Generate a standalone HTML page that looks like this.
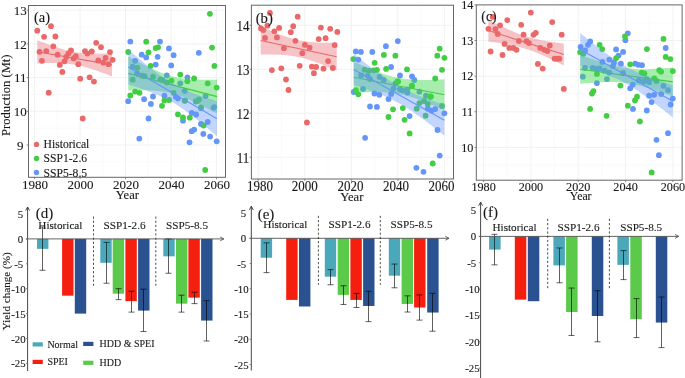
<!DOCTYPE html>
<html><head><meta charset="utf-8"><title>Figure</title>
<style>html,body{margin:0;padding:0;background:#fff;width:685px;height:378px;overflow:hidden}svg{display:block;will-change:transform}
text{font-family:"Liberation Serif",serif;stroke:#1a1a1a;stroke-width:0.12px}</style></head>
<body>
<svg width="685" height="378" viewBox="0 0 685 378" font-family="Liberation Serif, serif"><g id="panela">
<rect x="28.5" y="5.5" width="197" height="171.8" fill="#fff"/>
<line x1="34.6" y1="5.5" x2="34.6" y2="177.3" stroke="#f1f1f1" stroke-width="0.9"/><line x1="57.34" y1="5.5" x2="57.34" y2="177.3" stroke="#f6f6f6" stroke-width="0.6"/><line x1="80.08" y1="5.5" x2="80.08" y2="177.3" stroke="#f1f1f1" stroke-width="0.9"/><line x1="102.82" y1="5.5" x2="102.82" y2="177.3" stroke="#f6f6f6" stroke-width="0.6"/><line x1="125.56" y1="5.5" x2="125.56" y2="177.3" stroke="#f1f1f1" stroke-width="0.9"/><line x1="148.3" y1="5.5" x2="148.3" y2="177.3" stroke="#f6f6f6" stroke-width="0.6"/><line x1="171.04" y1="5.5" x2="171.04" y2="177.3" stroke="#f1f1f1" stroke-width="0.9"/><line x1="193.78" y1="5.5" x2="193.78" y2="177.3" stroke="#f6f6f6" stroke-width="0.6"/><line x1="216.52" y1="5.5" x2="216.52" y2="177.3" stroke="#f1f1f1" stroke-width="0.9"/><line x1="28.5" y1="10.2" x2="225.5" y2="10.2" stroke="#f1f1f1" stroke-width="0.9"/><line x1="28.5" y1="27.05" x2="225.5" y2="27.05" stroke="#f6f6f6" stroke-width="0.6"/><line x1="28.5" y1="43.9" x2="225.5" y2="43.9" stroke="#f1f1f1" stroke-width="0.9"/><line x1="28.5" y1="60.75" x2="225.5" y2="60.75" stroke="#f6f6f6" stroke-width="0.6"/><line x1="28.5" y1="77.6" x2="225.5" y2="77.6" stroke="#f1f1f1" stroke-width="0.9"/><line x1="28.5" y1="94.45" x2="225.5" y2="94.45" stroke="#f6f6f6" stroke-width="0.6"/><line x1="28.5" y1="111.3" x2="225.5" y2="111.3" stroke="#f1f1f1" stroke-width="0.9"/><line x1="28.5" y1="128.15" x2="225.5" y2="128.15" stroke="#f6f6f6" stroke-width="0.6"/><line x1="28.5" y1="145" x2="225.5" y2="145" stroke="#f1f1f1" stroke-width="0.9"/><line x1="28.5" y1="161.85" x2="225.5" y2="161.85" stroke="#f6f6f6" stroke-width="0.6"/>
<circle cx="37.3" cy="30.7" r="2.9" fill="#EB6868"/>
<circle cx="51" cy="26.2" r="2.9" fill="#EB6868"/>
<circle cx="44.1" cy="36.8" r="2.9" fill="#EB6868"/>
<circle cx="55.4" cy="36.5" r="2.9" fill="#EB6868"/>
<circle cx="53.3" cy="46.3" r="2.9" fill="#EB6868"/>
<circle cx="39.5" cy="51.8" r="2.9" fill="#EB6868"/>
<circle cx="46.3" cy="51.1" r="2.9" fill="#EB6868"/>
<circle cx="41.9" cy="60.8" r="2.9" fill="#EB6868"/>
<circle cx="57.6" cy="54.7" r="2.9" fill="#EB6868"/>
<circle cx="59.8" cy="64.9" r="2.9" fill="#EB6868"/>
<circle cx="64.5" cy="61.3" r="2.9" fill="#EB6868"/>
<circle cx="62.3" cy="71.9" r="2.9" fill="#EB6868"/>
<circle cx="66.3" cy="56.9" r="2.9" fill="#EB6868"/>
<circle cx="68.5" cy="53.3" r="2.9" fill="#EB6868"/>
<circle cx="71" cy="50.4" r="2.9" fill="#EB6868"/>
<circle cx="73.6" cy="58.4" r="2.9" fill="#EB6868"/>
<circle cx="75.8" cy="56.2" r="2.9" fill="#EB6868"/>
<circle cx="78.3" cy="64.2" r="2.9" fill="#EB6868"/>
<circle cx="85" cy="51.1" r="2.9" fill="#EB6868"/>
<circle cx="87.4" cy="53.6" r="2.9" fill="#EB6868"/>
<circle cx="91.8" cy="51.5" r="2.9" fill="#EB6868"/>
<circle cx="96.2" cy="42.8" r="2.9" fill="#EB6868"/>
<circle cx="101" cy="47.2" r="2.9" fill="#EB6868"/>
<circle cx="80.2" cy="78.7" r="2.9" fill="#EB6868"/>
<circle cx="89.6" cy="77.3" r="2.9" fill="#EB6868"/>
<circle cx="94" cy="81.6" r="2.9" fill="#EB6868"/>
<circle cx="98.3" cy="60.5" r="2.9" fill="#EB6868"/>
<circle cx="105.6" cy="57.9" r="2.9" fill="#EB6868"/>
<circle cx="103.4" cy="62.7" r="2.9" fill="#EB6868"/>
<circle cx="108.5" cy="64.2" r="2.9" fill="#EB6868"/>
<circle cx="110" cy="52.1" r="2.9" fill="#EB6868"/>
<circle cx="112.6" cy="59.8" r="2.9" fill="#EB6868"/>
<circle cx="48.7" cy="92.7" r="2.9" fill="#EB6868"/>
<circle cx="82.7" cy="118.5" r="2.9" fill="#EB6868"/>
<circle cx="130.3" cy="41.6" r="2.9" fill="#6496FA"/>
<circle cx="160" cy="41.6" r="2.9" fill="#6496FA"/>
<circle cx="168.9" cy="48.4" r="2.9" fill="#6496FA"/>
<circle cx="141.7" cy="54.7" r="2.9" fill="#6496FA"/>
<circle cx="146.2" cy="57.4" r="2.9" fill="#6496FA"/>
<circle cx="157.6" cy="56.8" r="2.9" fill="#6496FA"/>
<circle cx="173.6" cy="55.2" r="2.9" fill="#6496FA"/>
<circle cx="198.8" cy="52.8" r="2.9" fill="#6496FA"/>
<circle cx="135.1" cy="60.8" r="2.9" fill="#6496FA"/>
<circle cx="132.7" cy="66.7" r="2.9" fill="#6496FA"/>
<circle cx="155.7" cy="64.6" r="2.9" fill="#6496FA"/>
<circle cx="171.2" cy="65.4" r="2.9" fill="#6496FA"/>
<circle cx="137.1" cy="73.5" r="2.9" fill="#6496FA"/>
<circle cx="166.8" cy="75.4" r="2.9" fill="#6496FA"/>
<circle cx="162.5" cy="80.1" r="2.9" fill="#6496FA"/>
<circle cx="187.4" cy="77.3" r="2.9" fill="#6496FA"/>
<circle cx="180.3" cy="83.3" r="2.9" fill="#6496FA"/>
<circle cx="184.7" cy="90.8" r="2.9" fill="#6496FA"/>
<circle cx="128.2" cy="101.2" r="2.9" fill="#6496FA"/>
<circle cx="144.1" cy="99.2" r="2.9" fill="#6496FA"/>
<circle cx="153" cy="96.5" r="2.9" fill="#6496FA"/>
<circle cx="150.9" cy="103.9" r="2.9" fill="#6496FA"/>
<circle cx="164.4" cy="95.7" r="2.9" fill="#6496FA"/>
<circle cx="175.8" cy="96.8" r="2.9" fill="#6496FA"/>
<circle cx="177.9" cy="98.4" r="2.9" fill="#6496FA"/>
<circle cx="205.6" cy="96" r="2.9" fill="#6496FA"/>
<circle cx="214.4" cy="107.1" r="2.9" fill="#6496FA"/>
<circle cx="148.5" cy="118.5" r="2.9" fill="#6496FA"/>
<circle cx="139.3" cy="138.6" r="2.9" fill="#6496FA"/>
<circle cx="183" cy="120.7" r="2.9" fill="#6496FA"/>
<circle cx="191.7" cy="112.8" r="2.9" fill="#6496FA"/>
<circle cx="196.1" cy="114.5" r="2.9" fill="#6496FA"/>
<circle cx="200.9" cy="124" r="2.9" fill="#6496FA"/>
<circle cx="207.7" cy="122" r="2.9" fill="#6496FA"/>
<circle cx="191.7" cy="131.2" r="2.9" fill="#6496FA"/>
<circle cx="194.2" cy="129.6" r="2.9" fill="#6496FA"/>
<circle cx="203.3" cy="133.9" r="2.9" fill="#6496FA"/>
<circle cx="210.1" cy="136.6" r="2.9" fill="#6496FA"/>
<circle cx="216.7" cy="141.3" r="2.9" fill="#6496FA"/>
<circle cx="189.5" cy="142.3" r="2.9" fill="#6496FA"/>
<circle cx="213.6" cy="107.7" r="2.9" fill="#6496FA"/>
<circle cx="196.9" cy="101.3" r="2.9" fill="#6496FA"/>
<circle cx="185" cy="100.6" r="2.9" fill="#6496FA"/>
<circle cx="200.9" cy="108" r="2.9" fill="#6496FA"/>
<circle cx="209.9" cy="13.8" r="2.9" fill="#42CD42"/>
<circle cx="146.2" cy="41.7" r="2.9" fill="#42CD42"/>
<circle cx="155.7" cy="48.1" r="2.9" fill="#42CD42"/>
<circle cx="158.1" cy="47.3" r="2.9" fill="#42CD42"/>
<circle cx="212" cy="47.6" r="2.9" fill="#42CD42"/>
<circle cx="128.2" cy="52" r="2.9" fill="#42CD42"/>
<circle cx="148.5" cy="52.3" r="2.9" fill="#42CD42"/>
<circle cx="137.4" cy="67.8" r="2.9" fill="#42CD42"/>
<circle cx="150.6" cy="65.9" r="2.9" fill="#42CD42"/>
<circle cx="214.4" cy="65.9" r="2.9" fill="#42CD42"/>
<circle cx="142.2" cy="75.7" r="2.9" fill="#42CD42"/>
<circle cx="144.6" cy="76.2" r="2.9" fill="#42CD42"/>
<circle cx="132.7" cy="79.7" r="2.9" fill="#42CD42"/>
<circle cx="153" cy="76.6" r="2.9" fill="#42CD42"/>
<circle cx="160.4" cy="79.3" r="2.9" fill="#42CD42"/>
<circle cx="166.8" cy="82.5" r="2.9" fill="#42CD42"/>
<circle cx="171.5" cy="80.6" r="2.9" fill="#42CD42"/>
<circle cx="180.3" cy="74.6" r="2.9" fill="#42CD42"/>
<circle cx="187.4" cy="81.2" r="2.9" fill="#42CD42"/>
<circle cx="194.1" cy="78.5" r="2.9" fill="#42CD42"/>
<circle cx="207.7" cy="83.3" r="2.9" fill="#42CD42"/>
<circle cx="216.7" cy="87.6" r="2.9" fill="#42CD42"/>
<circle cx="173.6" cy="92.8" r="2.9" fill="#42CD42"/>
<circle cx="135.1" cy="91.6" r="2.9" fill="#42CD42"/>
<circle cx="139.5" cy="92.8" r="2.9" fill="#42CD42"/>
<circle cx="130.3" cy="95.5" r="2.9" fill="#42CD42"/>
<circle cx="164.4" cy="100.4" r="2.9" fill="#42CD42"/>
<circle cx="169.2" cy="100" r="2.9" fill="#42CD42"/>
<circle cx="184.7" cy="100.8" r="2.9" fill="#42CD42"/>
<circle cx="162" cy="105.8" r="2.9" fill="#42CD42"/>
<circle cx="195.8" cy="101.5" r="2.9" fill="#42CD42"/>
<circle cx="199" cy="99.5" r="2.9" fill="#42CD42"/>
<circle cx="200.9" cy="107.4" r="2.9" fill="#42CD42"/>
<circle cx="177.9" cy="114.3" r="2.9" fill="#42CD42"/>
<circle cx="183" cy="117.5" r="2.9" fill="#42CD42"/>
<circle cx="189.8" cy="117.7" r="2.9" fill="#42CD42"/>
<circle cx="203.6" cy="125.5" r="2.9" fill="#42CD42"/>
<circle cx="205.2" cy="170" r="2.9" fill="#42CD42"/>
<polygon points="37.3,40.2 39.79,41.18 42.29,42.14 44.78,43.09 47.27,44.02 49.77,44.94 52.26,45.83 54.75,46.69 57.25,47.52 59.74,48.32 62.23,49.08 64.73,49.79 67.22,50.45 69.71,51.04 72.21,51.58 74.7,52.05 77.19,52.45 79.69,52.79 82.18,53.07 84.67,53.28 87.17,53.45 89.66,53.56 92.15,53.64 94.65,53.68 97.14,53.69 99.63,53.67 102.13,53.63 104.62,53.57 107.11,53.49 109.61,53.4 112.1,53.3 112.1,76.5 109.61,75.52 107.11,74.56 104.62,73.61 102.13,72.68 99.63,71.76 97.14,70.87 94.65,70.01 92.15,69.18 89.66,68.38 87.17,67.62 84.67,66.91 82.18,66.25 79.69,65.66 77.19,65.12 74.7,64.65 72.21,64.25 69.71,63.91 67.22,63.63 64.73,63.42 62.23,63.25 59.74,63.14 57.25,63.06 54.75,63.02 52.26,63.01 49.77,63.03 47.27,63.07 44.78,63.13 42.29,63.21 39.79,63.3 37.3,63.4" fill="#E86A70" fill-opacity="0.4"/>
<line x1="37.3" y1="51.8" x2="112.1" y2="64.9" stroke="#EB6868" stroke-width="1.1"/>
<polygon points="128.3,56.4 131.26,58.02 134.21,59.62 137.17,61.2 140.13,62.75 143.08,64.28 146.04,65.78 149,67.24 151.95,68.66 154.91,70.02 157.87,71.32 160.82,72.54 163.78,73.68 166.74,74.73 169.69,75.67 172.65,76.5 175.61,77.22 178.56,77.82 181.52,78.32 184.48,78.73 187.43,79.05 190.39,79.3 193.35,79.48 196.3,79.62 199.26,79.7 202.22,79.75 205.17,79.77 208.13,79.76 211.09,79.72 214.04,79.67 217,79.6 217,113.6 214.04,111.98 211.09,110.38 208.13,108.8 205.17,107.25 202.22,105.72 199.26,104.22 196.3,102.76 193.35,101.34 190.39,99.98 187.43,98.68 184.48,97.46 181.52,96.32 178.56,95.27 175.61,94.33 172.65,93.5 169.69,92.78 166.74,92.18 163.78,91.68 160.82,91.27 157.87,90.95 154.91,90.7 151.95,90.52 149,90.38 146.04,90.3 143.08,90.25 140.13,90.23 137.17,90.24 134.21,90.28 131.26,90.33 128.3,90.4" fill="#3CD74B" fill-opacity="0.45"/>
<line x1="128.3" y1="73.4" x2="217" y2="96.6" stroke="#42CD42" stroke-width="1.1"/>
<polygon points="128.3,49.5 131.26,52.04 134.21,54.56 137.17,57.05 140.13,59.53 143.08,61.97 146.04,64.38 149,66.75 151.95,69.07 154.91,71.34 157.87,73.54 160.82,75.68 163.78,77.74 166.74,79.7 169.69,81.58 172.65,83.35 175.61,85.02 178.56,86.6 181.52,88.08 184.48,89.47 187.43,90.78 190.39,92.02 193.35,93.2 196.3,94.32 199.26,95.4 202.22,96.44 205.17,97.44 208.13,98.41 211.09,99.36 214.04,100.29 217,101.2 217,136.2 214.04,133.66 211.09,131.14 208.13,128.65 205.17,126.17 202.22,123.73 199.26,121.32 196.3,118.95 193.35,116.63 190.39,114.36 187.43,112.16 184.48,110.02 181.52,107.96 178.56,106 175.61,104.12 172.65,102.35 169.69,100.68 166.74,99.1 163.78,97.62 160.82,96.23 157.87,94.92 154.91,93.68 151.95,92.5 149,91.38 146.04,90.3 143.08,89.26 140.13,88.26 137.17,87.29 134.21,86.34 131.26,85.41 128.3,84.5" fill="#6496FA" fill-opacity="0.4"/>
<line x1="128.3" y1="67.0" x2="217" y2="118.7" stroke="#6496FA" stroke-width="1.1"/>
<text x="34" y="22.3" font-size="14.5" fill="#1a1a1a">(a)</text>
<rect x="28.5" y="5.5" width="197" height="171.8" fill="none" stroke="#666" stroke-width="1"/>
<line x1="34.6" y1="177.3" x2="34.6" y2="179.1" stroke="#777" stroke-width="0.9"/><text x="35.1" y="188.6" text-anchor="middle" font-size="13" fill="#1a1a1a">1980</text><line x1="80.08" y1="177.3" x2="80.08" y2="179.1" stroke="#777" stroke-width="0.9"/><text x="80.58" y="188.6" text-anchor="middle" font-size="13" fill="#1a1a1a">2000</text><line x1="125.56" y1="177.3" x2="125.56" y2="179.1" stroke="#777" stroke-width="0.9"/><text x="126.06" y="188.6" text-anchor="middle" font-size="13" fill="#1a1a1a">2020</text><line x1="171.04" y1="177.3" x2="171.04" y2="179.1" stroke="#777" stroke-width="0.9"/><text x="171.54" y="188.6" text-anchor="middle" font-size="13" fill="#1a1a1a">2040</text><line x1="216.52" y1="177.3" x2="216.52" y2="179.1" stroke="#777" stroke-width="0.9"/><text x="217.02" y="188.6" text-anchor="middle" font-size="13" fill="#1a1a1a">2060</text><line x1="26.7" y1="10.2" x2="28.5" y2="10.2" stroke="#777" stroke-width="0.9"/><text x="20.3" y="14.8" text-anchor="middle" font-size="13" fill="#1a1a1a">13</text><line x1="26.7" y1="43.9" x2="28.5" y2="43.9" stroke="#777" stroke-width="0.9"/><text x="20.3" y="48.5" text-anchor="middle" font-size="13" fill="#1a1a1a">12</text><line x1="26.7" y1="77.6" x2="28.5" y2="77.6" stroke="#777" stroke-width="0.9"/><text x="20.3" y="82.2" text-anchor="middle" font-size="13" fill="#1a1a1a">11</text><line x1="26.7" y1="111.3" x2="28.5" y2="111.3" stroke="#777" stroke-width="0.9"/><text x="20.3" y="115.9" text-anchor="middle" font-size="13" fill="#1a1a1a">10</text><line x1="26.7" y1="145" x2="28.5" y2="145" stroke="#777" stroke-width="0.9"/><text x="20.3" y="149.6" text-anchor="middle" font-size="13" fill="#1a1a1a">9</text>
<text x="127.4" y="198.7" text-anchor="middle" font-size="12.6" fill="#1a1a1a">Year</text>
</g>
<g id="panelb">
<rect x="251.4" y="5.2" width="202.1" height="173.8" fill="#fff"/>
<line x1="258.2" y1="5.2" x2="258.2" y2="179.0" stroke="#f1f1f1" stroke-width="0.9"/><line x1="281.47" y1="5.2" x2="281.47" y2="179.0" stroke="#f6f6f6" stroke-width="0.6"/><line x1="304.75" y1="5.2" x2="304.75" y2="179.0" stroke="#f1f1f1" stroke-width="0.9"/><line x1="328.02" y1="5.2" x2="328.02" y2="179.0" stroke="#f6f6f6" stroke-width="0.6"/><line x1="351.3" y1="5.2" x2="351.3" y2="179.0" stroke="#f1f1f1" stroke-width="0.9"/><line x1="374.57" y1="5.2" x2="374.57" y2="179.0" stroke="#f6f6f6" stroke-width="0.6"/><line x1="397.85" y1="5.2" x2="397.85" y2="179.0" stroke="#f1f1f1" stroke-width="0.9"/><line x1="421.12" y1="5.2" x2="421.12" y2="179.0" stroke="#f6f6f6" stroke-width="0.6"/><line x1="444.4" y1="5.2" x2="444.4" y2="179.0" stroke="#f1f1f1" stroke-width="0.9"/><line x1="251.4" y1="25.3" x2="453.5" y2="25.3" stroke="#f1f1f1" stroke-width="0.9"/><line x1="251.4" y1="47.28" x2="453.5" y2="47.28" stroke="#f6f6f6" stroke-width="0.6"/><line x1="251.4" y1="69.27" x2="453.5" y2="69.27" stroke="#f1f1f1" stroke-width="0.9"/><line x1="251.4" y1="91.25" x2="453.5" y2="91.25" stroke="#f6f6f6" stroke-width="0.6"/><line x1="251.4" y1="113.24" x2="453.5" y2="113.24" stroke="#f1f1f1" stroke-width="0.9"/><line x1="251.4" y1="135.22" x2="453.5" y2="135.22" stroke="#f6f6f6" stroke-width="0.6"/><line x1="251.4" y1="157.21" x2="453.5" y2="157.21" stroke="#f1f1f1" stroke-width="0.9"/>
<circle cx="269.9" cy="12.9" r="2.9" fill="#EB6868"/>
<circle cx="297.7" cy="16.7" r="2.9" fill="#EB6868"/>
<circle cx="261" cy="28.4" r="2.9" fill="#EB6868"/>
<circle cx="263.3" cy="30.1" r="2.9" fill="#EB6868"/>
<circle cx="267.4" cy="25.7" r="2.9" fill="#EB6868"/>
<circle cx="274.3" cy="31.3" r="2.9" fill="#EB6868"/>
<circle cx="279.1" cy="27.9" r="2.9" fill="#EB6868"/>
<circle cx="293.2" cy="26.2" r="2.9" fill="#EB6868"/>
<circle cx="290.8" cy="32.2" r="2.9" fill="#EB6868"/>
<circle cx="265" cy="37.9" r="2.9" fill="#EB6868"/>
<circle cx="276.9" cy="37.4" r="2.9" fill="#EB6868"/>
<circle cx="295.4" cy="40.8" r="2.9" fill="#EB6868"/>
<circle cx="283.9" cy="48.2" r="2.9" fill="#EB6868"/>
<circle cx="304.9" cy="44.8" r="2.9" fill="#EB6868"/>
<circle cx="309.6" cy="47.7" r="2.9" fill="#EB6868"/>
<circle cx="302.3" cy="53.2" r="2.9" fill="#EB6868"/>
<circle cx="320.9" cy="27.6" r="2.9" fill="#EB6868"/>
<circle cx="330.2" cy="28.8" r="2.9" fill="#EB6868"/>
<circle cx="337.3" cy="31.9" r="2.9" fill="#EB6868"/>
<circle cx="318.7" cy="39.1" r="2.9" fill="#EB6868"/>
<circle cx="325.6" cy="38.2" r="2.9" fill="#EB6868"/>
<circle cx="334.7" cy="45.1" r="2.9" fill="#EB6868"/>
<circle cx="328.1" cy="61.1" r="2.9" fill="#EB6868"/>
<circle cx="271.9" cy="70.1" r="2.9" fill="#EB6868"/>
<circle cx="281.3" cy="68.3" r="2.9" fill="#EB6868"/>
<circle cx="299.7" cy="65.8" r="2.9" fill="#EB6868"/>
<circle cx="311.8" cy="66.6" r="2.9" fill="#EB6868"/>
<circle cx="316.1" cy="67" r="2.9" fill="#EB6868"/>
<circle cx="323.5" cy="68.7" r="2.9" fill="#EB6868"/>
<circle cx="332.8" cy="68" r="2.9" fill="#EB6868"/>
<circle cx="313.9" cy="73.2" r="2.9" fill="#EB6868"/>
<circle cx="286" cy="79.5" r="2.9" fill="#EB6868"/>
<circle cx="288.5" cy="90" r="2.9" fill="#EB6868"/>
<circle cx="306.9" cy="122.5" r="2.9" fill="#EB6868"/>
<circle cx="397.8" cy="41.1" r="2.9" fill="#6496FA"/>
<circle cx="385.9" cy="46.2" r="2.9" fill="#6496FA"/>
<circle cx="355.8" cy="51.4" r="2.9" fill="#6496FA"/>
<circle cx="360.9" cy="51.9" r="2.9" fill="#6496FA"/>
<circle cx="372.3" cy="51.9" r="2.9" fill="#6496FA"/>
<circle cx="358.3" cy="59.6" r="2.9" fill="#6496FA"/>
<circle cx="391.1" cy="67" r="2.9" fill="#6496FA"/>
<circle cx="400" cy="75.4" r="2.9" fill="#6496FA"/>
<circle cx="412" cy="76.3" r="2.9" fill="#6496FA"/>
<circle cx="414.3" cy="80" r="2.9" fill="#6496FA"/>
<circle cx="353.7" cy="92" r="2.9" fill="#6496FA"/>
<circle cx="363" cy="88.9" r="2.9" fill="#6496FA"/>
<circle cx="374.4" cy="93.5" r="2.9" fill="#6496FA"/>
<circle cx="379.3" cy="94.8" r="2.9" fill="#6496FA"/>
<circle cx="388.5" cy="99.1" r="2.9" fill="#6496FA"/>
<circle cx="391.1" cy="93.9" r="2.9" fill="#6496FA"/>
<circle cx="370" cy="106.5" r="2.9" fill="#6496FA"/>
<circle cx="376.9" cy="106.9" r="2.9" fill="#6496FA"/>
<circle cx="409.6" cy="116.1" r="2.9" fill="#6496FA"/>
<circle cx="427.8" cy="108.7" r="2.9" fill="#6496FA"/>
<circle cx="431.5" cy="110.6" r="2.9" fill="#6496FA"/>
<circle cx="435.2" cy="109.1" r="2.9" fill="#6496FA"/>
<circle cx="444.4" cy="113.3" r="2.9" fill="#6496FA"/>
<circle cx="365.1" cy="137.8" r="2.9" fill="#6496FA"/>
<circle cx="437.5" cy="130" r="2.9" fill="#6496FA"/>
<circle cx="439.7" cy="155.6" r="2.9" fill="#6496FA"/>
<circle cx="416.4" cy="167.8" r="2.9" fill="#6496FA"/>
<circle cx="423.5" cy="171.8" r="2.9" fill="#6496FA"/>
<circle cx="361.1" cy="75.4" r="2.9" fill="#6496FA"/>
<circle cx="367.6" cy="75.7" r="2.9" fill="#6496FA"/>
<circle cx="370" cy="79.1" r="2.9" fill="#6496FA"/>
<circle cx="379.6" cy="76.9" r="2.9" fill="#6496FA"/>
<circle cx="383.7" cy="80" r="2.9" fill="#6496FA"/>
<circle cx="395.4" cy="83.3" r="2.9" fill="#6496FA"/>
<circle cx="393.5" cy="88.3" r="2.9" fill="#6496FA"/>
<circle cx="400" cy="89.3" r="2.9" fill="#6496FA"/>
<circle cx="407.4" cy="89.3" r="2.9" fill="#6496FA"/>
<circle cx="402.4" cy="90.3" r="2.9" fill="#6496FA"/>
<circle cx="407.4" cy="92.6" r="2.9" fill="#6496FA"/>
<circle cx="419.4" cy="91.7" r="2.9" fill="#6496FA"/>
<circle cx="425.9" cy="95.7" r="2.9" fill="#6496FA"/>
<circle cx="430.4" cy="96.7" r="2.9" fill="#6496FA"/>
<circle cx="439.7" cy="48.7" r="2.9" fill="#42CD42"/>
<circle cx="437.3" cy="55.7" r="2.9" fill="#42CD42"/>
<circle cx="444.4" cy="57.8" r="2.9" fill="#42CD42"/>
<circle cx="383.9" cy="54.9" r="2.9" fill="#42CD42"/>
<circle cx="395.4" cy="55.7" r="2.9" fill="#42CD42"/>
<circle cx="353.3" cy="59.1" r="2.9" fill="#42CD42"/>
<circle cx="374.6" cy="62.8" r="2.9" fill="#42CD42"/>
<circle cx="376.9" cy="69.8" r="2.9" fill="#42CD42"/>
<circle cx="386.1" cy="68.9" r="2.9" fill="#42CD42"/>
<circle cx="407" cy="69.4" r="2.9" fill="#42CD42"/>
<circle cx="442" cy="69.8" r="2.9" fill="#42CD42"/>
<circle cx="435.2" cy="78.5" r="2.9" fill="#42CD42"/>
<circle cx="398.1" cy="81.5" r="2.9" fill="#42CD42"/>
<circle cx="412" cy="85.6" r="2.9" fill="#42CD42"/>
<circle cx="355.9" cy="90.2" r="2.9" fill="#42CD42"/>
<circle cx="358.3" cy="94.3" r="2.9" fill="#42CD42"/>
<circle cx="393" cy="109.3" r="2.9" fill="#42CD42"/>
<circle cx="402.8" cy="108.1" r="2.9" fill="#42CD42"/>
<circle cx="388.5" cy="117" r="2.9" fill="#42CD42"/>
<circle cx="404.6" cy="119.8" r="2.9" fill="#42CD42"/>
<circle cx="409.6" cy="133.4" r="2.9" fill="#42CD42"/>
<circle cx="430.6" cy="96.3" r="2.9" fill="#42CD42"/>
<circle cx="432.7" cy="163.5" r="2.9" fill="#42CD42"/>
<circle cx="411.9" cy="86" r="2.9" fill="#42CD42"/>
<circle cx="364.7" cy="69.7" r="2.9" fill="#42CD42"/>
<circle cx="368.8" cy="70.6" r="2.9" fill="#42CD42"/>
<circle cx="419.4" cy="103.1" r="2.9" fill="#42CD42"/>
<circle cx="424.1" cy="101.1" r="2.9" fill="#42CD42"/>
<circle cx="427.8" cy="104.1" r="2.9" fill="#42CD42"/>
<circle cx="416.7" cy="108.7" r="2.9" fill="#42CD42"/>
<circle cx="425.6" cy="115.7" r="2.9" fill="#42CD42"/>
<circle cx="442" cy="105.9" r="2.9" fill="#42CD42"/>
<circle cx="373.6" cy="70.3" r="2.9" fill="#42CD42"/>
<circle cx="397.4" cy="81.4" r="2.9" fill="#42CD42"/>
<circle cx="430.7" cy="96.7" r="2.9" fill="#42CD42"/>
<polygon points="260.7,26.5 263.23,27.63 265.77,28.73 268.3,29.82 270.83,30.89 273.37,31.94 275.9,32.95 278.43,33.94 280.97,34.89 283.5,35.8 286.03,36.66 288.57,37.47 291.1,38.23 293.63,38.93 296.17,39.57 298.7,40.15 301.23,40.66 303.77,41.11 306.3,41.49 308.83,41.82 311.37,42.09 313.9,42.32 316.43,42.49 318.97,42.63 321.5,42.73 324.03,42.8 326.57,42.85 329.1,42.86 331.63,42.86 334.17,42.84 336.7,42.8 336.7,70.8 334.17,69.67 331.63,68.57 329.1,67.48 326.57,66.41 324.03,65.36 321.5,64.35 318.97,63.36 316.43,62.41 313.9,61.5 311.37,60.64 308.83,59.83 306.3,59.07 303.77,58.37 301.23,57.73 298.7,57.15 296.17,56.64 293.63,56.19 291.1,55.81 288.57,55.48 286.03,55.21 283.5,54.98 280.97,54.81 278.43,54.67 275.9,54.57 273.37,54.5 270.83,54.45 268.3,54.44 265.77,54.44 263.23,54.46 260.7,54.5" fill="#E86A70" fill-opacity="0.4"/>
<line x1="260.7" y1="40.5" x2="336.7" y2="56.8" stroke="#EB6868" stroke-width="1.1"/>
<polygon points="353.7,61.7 356.72,63.04 359.75,64.36 362.77,65.66 365.79,66.95 368.82,68.2 371.84,69.43 374.86,70.62 377.89,71.77 380.91,72.88 383.93,73.92 386.96,74.91 389.98,75.81 393,76.63 396.03,77.36 399.05,78 402.07,78.54 405.1,78.98 408.12,79.33 411.14,79.6 414.17,79.79 417.19,79.92 420.21,79.99 423.24,80.01 426.26,79.99 429.28,79.94 432.31,79.85 435.33,79.74 438.35,79.61 441.38,79.46 444.4,79.3 444.4,110.3 441.38,108.96 438.35,107.64 435.33,106.34 432.31,105.05 429.28,103.8 426.26,102.57 423.24,101.38 420.21,100.23 417.19,99.12 414.17,98.08 411.14,97.09 408.12,96.19 405.1,95.37 402.07,94.64 399.05,94 396.03,93.46 393,93.02 389.98,92.67 386.96,92.4 383.93,92.21 380.91,92.08 377.89,92.01 374.86,91.99 371.84,92.01 368.82,92.06 365.79,92.15 362.77,92.26 359.75,92.39 356.72,92.54 353.7,92.7" fill="#3CD74B" fill-opacity="0.45"/>
<line x1="353.7" y1="77.2" x2="444.4" y2="94.8" stroke="#42CD42" stroke-width="1.1"/>
<polygon points="353.7,53.9 356.72,56.31 359.75,58.7 362.77,61.07 365.79,63.42 368.82,65.75 371.84,68.04 374.86,70.3 377.89,72.51 380.91,74.68 383.93,76.8 386.96,78.85 389.98,80.83 393,82.74 396.03,84.56 399.05,86.3 402.07,87.95 405.1,89.51 408.12,90.99 411.14,92.4 414.17,93.73 417.19,95 420.21,96.22 423.24,97.39 426.26,98.52 429.28,99.61 432.31,100.68 435.33,101.71 438.35,102.73 441.38,103.72 444.4,104.7 444.4,135.7 441.38,133.29 438.35,130.9 435.33,128.53 432.31,126.18 429.28,123.85 426.26,121.56 423.24,119.3 420.21,117.09 417.19,114.92 414.17,112.8 411.14,110.75 408.12,108.77 405.1,106.86 402.07,105.04 399.05,103.3 396.03,101.65 393,100.09 389.98,98.61 386.96,97.2 383.93,95.87 380.91,94.6 377.89,93.38 374.86,92.21 371.84,91.08 368.82,89.99 365.79,88.92 362.77,87.89 359.75,86.87 356.72,85.88 353.7,84.9" fill="#6496FA" fill-opacity="0.4"/>
<line x1="353.7" y1="69.4" x2="444.4" y2="120.2" stroke="#6496FA" stroke-width="1.1"/>
<text x="255.7" y="22.7" font-size="14.8" fill="#1a1a1a">(b)</text>
<rect x="251.4" y="5.2" width="202.1" height="173.8" fill="none" stroke="#666" stroke-width="1"/>
<line x1="258.2" y1="179.0" x2="258.2" y2="180.8" stroke="#777" stroke-width="0.9"/><text transform="translate(259.9,190.6) scale(1,1.06)" text-anchor="middle" font-size="13" fill="#1a1a1a">1980</text><line x1="304.75" y1="179.0" x2="304.75" y2="180.8" stroke="#777" stroke-width="0.9"/><text transform="translate(304.7,190.6) scale(1,1.06)" text-anchor="middle" font-size="13" fill="#1a1a1a">2000</text><line x1="351.3" y1="179.0" x2="351.3" y2="180.8" stroke="#777" stroke-width="0.9"/><text transform="translate(350.4,190.6) scale(1,1.06)" text-anchor="middle" font-size="13" fill="#1a1a1a">2020</text><line x1="397.85" y1="179.0" x2="397.85" y2="180.8" stroke="#777" stroke-width="0.9"/><text transform="translate(396,190.6) scale(1,1.06)" text-anchor="middle" font-size="13" fill="#1a1a1a">2040</text><line x1="444.4" y1="179.0" x2="444.4" y2="180.8" stroke="#777" stroke-width="0.9"/><text transform="translate(441.4,190.6) scale(1,1.06)" text-anchor="middle" font-size="13" fill="#1a1a1a">2060</text><line x1="249.6" y1="25.3" x2="251.4" y2="25.3" stroke="#777" stroke-width="0.9"/><text transform="translate(243.1,30.9) scale(1,1.06)" text-anchor="middle" font-size="13" fill="#1a1a1a">14</text><line x1="249.6" y1="69.27" x2="251.4" y2="69.27" stroke="#777" stroke-width="0.9"/><text transform="translate(243.1,74.87) scale(1,1.06)" text-anchor="middle" font-size="13" fill="#1a1a1a">13</text><line x1="249.6" y1="113.24" x2="251.4" y2="113.24" stroke="#777" stroke-width="0.9"/><text transform="translate(243.1,118.84) scale(1,1.06)" text-anchor="middle" font-size="13" fill="#1a1a1a">12</text><line x1="249.6" y1="157.21" x2="251.4" y2="157.21" stroke="#777" stroke-width="0.9"/><text transform="translate(243.1,162.81) scale(1,1.06)" text-anchor="middle" font-size="13" fill="#1a1a1a">11</text>
<text x="351.75" y="200.6" text-anchor="middle" font-size="12.6" fill="#1a1a1a">Year</text>
</g>
<g id="panelc">
<rect x="476.3" y="4.9" width="205.8" height="175.3" fill="#fff"/>
<line x1="483.6" y1="4.9" x2="483.6" y2="180.2" stroke="#f1f1f1" stroke-width="0.9"/><line x1="507.26" y1="4.9" x2="507.26" y2="180.2" stroke="#f6f6f6" stroke-width="0.6"/><line x1="530.92" y1="4.9" x2="530.92" y2="180.2" stroke="#f1f1f1" stroke-width="0.9"/><line x1="554.58" y1="4.9" x2="554.58" y2="180.2" stroke="#f6f6f6" stroke-width="0.6"/><line x1="578.24" y1="4.9" x2="578.24" y2="180.2" stroke="#f1f1f1" stroke-width="0.9"/><line x1="601.9" y1="4.9" x2="601.9" y2="180.2" stroke="#f6f6f6" stroke-width="0.6"/><line x1="625.56" y1="4.9" x2="625.56" y2="180.2" stroke="#f1f1f1" stroke-width="0.9"/><line x1="649.22" y1="4.9" x2="649.22" y2="180.2" stroke="#f6f6f6" stroke-width="0.6"/><line x1="672.88" y1="4.9" x2="672.88" y2="180.2" stroke="#f1f1f1" stroke-width="0.9"/><line x1="476.3" y1="22.69" x2="682.1" y2="22.69" stroke="#f6f6f6" stroke-width="0.6"/><line x1="476.3" y1="40.5" x2="682.1" y2="40.5" stroke="#f1f1f1" stroke-width="0.9"/><line x1="476.3" y1="58.32" x2="682.1" y2="58.32" stroke="#f6f6f6" stroke-width="0.6"/><line x1="476.3" y1="76.13" x2="682.1" y2="76.13" stroke="#f1f1f1" stroke-width="0.9"/><line x1="476.3" y1="93.95" x2="682.1" y2="93.95" stroke="#f6f6f6" stroke-width="0.6"/><line x1="476.3" y1="111.76" x2="682.1" y2="111.76" stroke="#f1f1f1" stroke-width="0.9"/><line x1="476.3" y1="129.58" x2="682.1" y2="129.58" stroke="#f6f6f6" stroke-width="0.6"/><line x1="476.3" y1="147.39" x2="682.1" y2="147.39" stroke="#f1f1f1" stroke-width="0.9"/><line x1="476.3" y1="165.21" x2="682.1" y2="165.21" stroke="#f6f6f6" stroke-width="0.6"/>
<circle cx="492.7" cy="16.9" r="2.9" fill="#EB6868"/>
<circle cx="530.8" cy="12.6" r="2.9" fill="#EB6868"/>
<circle cx="507.3" cy="20.1" r="2.9" fill="#EB6868"/>
<circle cx="552.2" cy="22.1" r="2.9" fill="#EB6868"/>
<circle cx="500.1" cy="25.3" r="2.9" fill="#EB6868"/>
<circle cx="521.2" cy="24.8" r="2.9" fill="#EB6868"/>
<circle cx="488.4" cy="28.8" r="2.9" fill="#EB6868"/>
<circle cx="495.4" cy="29.1" r="2.9" fill="#EB6868"/>
<circle cx="497.7" cy="33.9" r="2.9" fill="#EB6868"/>
<circle cx="523.6" cy="34.7" r="2.9" fill="#EB6868"/>
<circle cx="533.5" cy="34.8" r="2.9" fill="#EB6868"/>
<circle cx="535.8" cy="32.8" r="2.9" fill="#EB6868"/>
<circle cx="561.7" cy="34.7" r="2.9" fill="#EB6868"/>
<circle cx="518.9" cy="41" r="2.9" fill="#EB6868"/>
<circle cx="526.5" cy="41.2" r="2.9" fill="#EB6868"/>
<circle cx="528.9" cy="43.1" r="2.9" fill="#EB6868"/>
<circle cx="504.6" cy="43.9" r="2.9" fill="#EB6868"/>
<circle cx="509.3" cy="47.9" r="2.9" fill="#EB6868"/>
<circle cx="513.3" cy="47.9" r="2.9" fill="#EB6868"/>
<circle cx="516.5" cy="49.8" r="2.9" fill="#EB6868"/>
<circle cx="540.3" cy="47.9" r="2.9" fill="#EB6868"/>
<circle cx="544.3" cy="49.8" r="2.9" fill="#EB6868"/>
<circle cx="547.4" cy="51" r="2.9" fill="#EB6868"/>
<circle cx="549.8" cy="45.5" r="2.9" fill="#EB6868"/>
<circle cx="490.6" cy="51.5" r="2.9" fill="#EB6868"/>
<circle cx="502.5" cy="55" r="2.9" fill="#EB6868"/>
<circle cx="554.6" cy="58.7" r="2.9" fill="#EB6868"/>
<circle cx="557" cy="58.7" r="2.9" fill="#EB6868"/>
<circle cx="559.3" cy="58.7" r="2.9" fill="#EB6868"/>
<circle cx="537.9" cy="63.9" r="2.9" fill="#EB6868"/>
<circle cx="542.7" cy="68.6" r="2.9" fill="#EB6868"/>
<circle cx="563.8" cy="88.9" r="2.9" fill="#EB6868"/>
<circle cx="627.8" cy="33.3" r="2.9" fill="#6496FA"/>
<circle cx="625.4" cy="40.2" r="2.9" fill="#6496FA"/>
<circle cx="665.7" cy="48" r="2.9" fill="#6496FA"/>
<circle cx="590.2" cy="41.5" r="2.9" fill="#6496FA"/>
<circle cx="588" cy="44.8" r="2.9" fill="#6496FA"/>
<circle cx="580.6" cy="47" r="2.9" fill="#6496FA"/>
<circle cx="585.2" cy="50.4" r="2.9" fill="#6496FA"/>
<circle cx="616.1" cy="49.4" r="2.9" fill="#6496FA"/>
<circle cx="623.1" cy="51.9" r="2.9" fill="#6496FA"/>
<circle cx="618.5" cy="55.6" r="2.9" fill="#6496FA"/>
<circle cx="609.3" cy="59.6" r="2.9" fill="#6496FA"/>
<circle cx="613.9" cy="62.4" r="2.9" fill="#6496FA"/>
<circle cx="620.9" cy="63.7" r="2.9" fill="#6496FA"/>
<circle cx="635.2" cy="63.7" r="2.9" fill="#6496FA"/>
<circle cx="638.3" cy="64.8" r="2.9" fill="#6496FA"/>
<circle cx="642" cy="65.2" r="2.9" fill="#6496FA"/>
<circle cx="582.8" cy="76.7" r="2.9" fill="#6496FA"/>
<circle cx="606.9" cy="79.1" r="2.9" fill="#6496FA"/>
<circle cx="596.9" cy="83.1" r="2.9" fill="#6496FA"/>
<circle cx="630.2" cy="88.3" r="2.9" fill="#6496FA"/>
<circle cx="632.8" cy="84.6" r="2.9" fill="#6496FA"/>
<circle cx="649.1" cy="95.7" r="2.9" fill="#6496FA"/>
<circle cx="654.1" cy="94.8" r="2.9" fill="#6496FA"/>
<circle cx="663.5" cy="85.9" r="2.9" fill="#6496FA"/>
<circle cx="668.1" cy="90.2" r="2.9" fill="#6496FA"/>
<circle cx="661.2" cy="94.1" r="2.9" fill="#6496FA"/>
<circle cx="672.8" cy="98.6" r="2.9" fill="#6496FA"/>
<circle cx="670.7" cy="104.5" r="2.9" fill="#6496FA"/>
<circle cx="633" cy="108.9" r="2.9" fill="#6496FA"/>
<circle cx="646.8" cy="110.5" r="2.9" fill="#6496FA"/>
<circle cx="651.6" cy="102.1" r="2.9" fill="#6496FA"/>
<circle cx="668" cy="133.2" r="2.9" fill="#6496FA"/>
<circle cx="656.5" cy="139.8" r="2.9" fill="#6496FA"/>
<circle cx="658.9" cy="155.2" r="2.9" fill="#6496FA"/>
<circle cx="592.6" cy="67.9" r="2.9" fill="#6496FA"/>
<circle cx="596.3" cy="68.9" r="2.9" fill="#6496FA"/>
<circle cx="599.6" cy="68.5" r="2.9" fill="#6496FA"/>
<circle cx="604.6" cy="70.7" r="2.9" fill="#6496FA"/>
<circle cx="609.3" cy="72.6" r="2.9" fill="#6496FA"/>
<circle cx="623.1" cy="73" r="2.9" fill="#6496FA"/>
<circle cx="602.4" cy="61.9" r="2.9" fill="#6496FA"/>
<circle cx="613" cy="66.1" r="2.9" fill="#6496FA"/>
<circle cx="638.9" cy="80.4" r="2.9" fill="#6496FA"/>
<circle cx="643.9" cy="81.5" r="2.9" fill="#6496FA"/>
<circle cx="649.1" cy="82.2" r="2.9" fill="#6496FA"/>
<circle cx="646.9" cy="79.1" r="2.9" fill="#6496FA"/>
<circle cx="585" cy="68" r="2.9" fill="#6496FA"/>
<circle cx="625" cy="36.5" r="2.9" fill="#42CD42"/>
<circle cx="663.5" cy="38.9" r="2.9" fill="#42CD42"/>
<circle cx="646.9" cy="49.1" r="2.9" fill="#42CD42"/>
<circle cx="599.6" cy="44.8" r="2.9" fill="#42CD42"/>
<circle cx="602.2" cy="49.1" r="2.9" fill="#42CD42"/>
<circle cx="616.1" cy="58.1" r="2.9" fill="#42CD42"/>
<circle cx="665.7" cy="56.9" r="2.9" fill="#42CD42"/>
<circle cx="670.4" cy="59.1" r="2.9" fill="#42CD42"/>
<circle cx="659.3" cy="70.2" r="2.9" fill="#42CD42"/>
<circle cx="661.1" cy="71.7" r="2.9" fill="#42CD42"/>
<circle cx="672.8" cy="71.1" r="2.9" fill="#42CD42"/>
<circle cx="641.7" cy="72.6" r="2.9" fill="#42CD42"/>
<circle cx="644.4" cy="73.5" r="2.9" fill="#42CD42"/>
<circle cx="596.9" cy="73.9" r="2.9" fill="#42CD42"/>
<circle cx="580.2" cy="52.2" r="2.9" fill="#42CD42"/>
<circle cx="583.3" cy="53.7" r="2.9" fill="#42CD42"/>
<circle cx="654.3" cy="78.5" r="2.9" fill="#42CD42"/>
<circle cx="656.5" cy="80.9" r="2.9" fill="#42CD42"/>
<circle cx="630.2" cy="64.3" r="2.9" fill="#42CD42"/>
<circle cx="620.4" cy="85.6" r="2.9" fill="#42CD42"/>
<circle cx="593.5" cy="91.1" r="2.9" fill="#42CD42"/>
<circle cx="592" cy="93.5" r="2.9" fill="#42CD42"/>
<circle cx="637" cy="96.7" r="2.9" fill="#42CD42"/>
<circle cx="635" cy="100.5" r="2.9" fill="#42CD42"/>
<circle cx="590.1" cy="108.9" r="2.9" fill="#42CD42"/>
<circle cx="606.6" cy="115.8" r="2.9" fill="#42CD42"/>
<circle cx="627.8" cy="105.7" r="2.9" fill="#42CD42"/>
<circle cx="639.9" cy="121.4" r="2.9" fill="#42CD42"/>
<circle cx="651.7" cy="172.4" r="2.9" fill="#42CD42"/>
<polygon points="488.4,19.6 490.91,20.89 493.43,22.16 495.94,23.42 498.45,24.67 500.97,25.89 503.48,27.1 505.99,28.27 508.51,29.42 511.02,30.54 513.53,31.62 516.05,32.66 518.56,33.65 521.07,34.59 523.59,35.47 526.1,36.3 528.61,37.07 531.13,37.79 533.64,38.45 536.15,39.06 538.67,39.62 541.18,40.14 543.69,40.62 546.21,41.07 548.72,41.5 551.23,41.89 553.75,42.27 556.26,42.62 558.77,42.96 561.29,43.29 563.8,43.6 563.8,65.6 561.29,64.31 558.77,63.04 556.26,61.78 553.75,60.53 551.23,59.31 548.72,58.1 546.21,56.93 543.69,55.78 541.18,54.66 538.67,53.58 536.15,52.54 533.64,51.55 531.13,50.61 528.61,49.73 526.1,48.9 523.59,48.13 521.07,47.41 518.56,46.75 516.05,46.14 513.53,45.58 511.02,45.06 508.51,44.58 505.99,44.13 503.48,43.7 500.97,43.31 498.45,42.93 495.94,42.58 493.43,42.24 490.91,41.91 488.4,41.6" fill="#E86A70" fill-opacity="0.4"/>
<line x1="488.4" y1="30.6" x2="563.8" y2="54.6" stroke="#EB6868" stroke-width="1.1"/>
<polygon points="580.2,54.8 583.29,55.93 586.37,57.04 589.46,58.14 592.55,59.22 595.63,60.27 598.72,61.3 601.81,62.29 604.89,63.25 607.98,64.16 611.07,65.01 614.15,65.81 617.24,66.53 620.33,67.18 623.41,67.73 626.5,68.2 629.59,68.57 632.67,68.86 635.76,69.05 638.85,69.17 641.93,69.21 645.02,69.2 648.11,69.13 651.19,69.01 654.28,68.86 657.37,68.67 660.45,68.46 663.54,68.22 666.63,67.96 669.71,67.69 672.8,67.4 672.8,96.4 669.71,95.27 666.63,94.16 663.54,93.06 660.45,91.98 657.37,90.93 654.28,89.9 651.19,88.91 648.11,87.95 645.02,87.04 641.93,86.19 638.85,85.39 635.76,84.67 632.67,84.02 629.59,83.47 626.5,83 623.41,82.63 620.33,82.34 617.24,82.15 614.15,82.03 611.07,81.99 607.98,82 604.89,82.07 601.81,82.19 598.72,82.34 595.63,82.53 592.55,82.74 589.46,82.98 586.37,83.24 583.29,83.51 580.2,83.8" fill="#3CD74B" fill-opacity="0.45"/>
<line x1="580.2" y1="69.3" x2="672.8" y2="81.9" stroke="#42CD42" stroke-width="1.1"/>
<polygon points="580.2,33.1 583.29,35.61 586.37,38.11 589.46,40.59 592.55,43.04 595.63,45.47 598.72,47.87 601.81,50.23 604.89,52.55 607.98,54.81 611.07,57.02 614.15,59.16 617.24,61.22 620.33,63.19 623.41,65.07 626.5,66.85 629.59,68.53 632.67,70.11 635.76,71.6 638.85,73 641.93,74.32 645.02,75.57 648.11,76.77 651.19,77.91 654.28,79.01 657.37,80.07 660.45,81.1 663.54,82.11 666.63,83.09 669.71,84.05 672.8,85 672.8,117.6 669.71,115.09 666.63,112.59 663.54,110.11 660.45,107.66 657.37,105.23 654.28,102.83 651.19,100.47 648.11,98.15 645.02,95.89 641.93,93.68 638.85,91.54 635.76,89.48 632.67,87.51 629.59,85.63 626.5,83.85 623.41,82.17 620.33,80.59 617.24,79.1 614.15,77.7 611.07,76.38 607.98,75.13 604.89,73.93 601.81,72.79 598.72,71.69 595.63,70.63 592.55,69.6 589.46,68.59 586.37,67.61 583.29,66.65 580.2,65.7" fill="#6496FA" fill-opacity="0.4"/>
<line x1="580.2" y1="49.4" x2="672.8" y2="101.3" stroke="#6496FA" stroke-width="1.1"/>
<text x="481.3" y="21.1" font-size="13.8" fill="#1a1a1a">(c)</text>
<rect x="476.3" y="4.9" width="205.8" height="175.3" fill="none" stroke="#666" stroke-width="1"/>
<line x1="483.6" y1="180.2" x2="483.6" y2="182" stroke="#777" stroke-width="0.9"/><text x="483.6" y="190.7" text-anchor="middle" font-size="12.2" fill="#1a1a1a">1980</text><line x1="530.92" y1="180.2" x2="530.92" y2="182" stroke="#777" stroke-width="0.9"/><text x="530.92" y="190.7" text-anchor="middle" font-size="12.2" fill="#1a1a1a">2000</text><line x1="578.24" y1="180.2" x2="578.24" y2="182" stroke="#777" stroke-width="0.9"/><text x="578.24" y="190.7" text-anchor="middle" font-size="12.2" fill="#1a1a1a">2020</text><line x1="625.56" y1="180.2" x2="625.56" y2="182" stroke="#777" stroke-width="0.9"/><text x="625.56" y="190.7" text-anchor="middle" font-size="12.2" fill="#1a1a1a">2040</text><line x1="672.88" y1="180.2" x2="672.88" y2="182" stroke="#777" stroke-width="0.9"/><text x="672.88" y="190.7" text-anchor="middle" font-size="12.2" fill="#1a1a1a">2060</text><line x1="474.5" y1="4.87" x2="476.3" y2="4.87" stroke="#777" stroke-width="0.9"/><text x="467.3" y="9.07" text-anchor="middle" font-size="12.2" fill="#1a1a1a">14</text><line x1="474.5" y1="40.5" x2="476.3" y2="40.5" stroke="#777" stroke-width="0.9"/><text x="467.3" y="44.7" text-anchor="middle" font-size="12.2" fill="#1a1a1a">13</text><line x1="474.5" y1="76.13" x2="476.3" y2="76.13" stroke="#777" stroke-width="0.9"/><text x="467.3" y="80.33" text-anchor="middle" font-size="12.2" fill="#1a1a1a">12</text><line x1="474.5" y1="111.76" x2="476.3" y2="111.76" stroke="#777" stroke-width="0.9"/><text x="467.3" y="115.96" text-anchor="middle" font-size="12.2" fill="#1a1a1a">11</text><line x1="474.5" y1="147.39" x2="476.3" y2="147.39" stroke="#777" stroke-width="0.9"/><text x="467.3" y="151.59" text-anchor="middle" font-size="12.2" fill="#1a1a1a">10</text>
<text x="580.7" y="199.6" text-anchor="middle" font-size="11.8" fill="#1a1a1a">Year</text>
</g>
<text transform="translate(10.0,95.2) rotate(-90)" text-anchor="middle" font-size="12.6" fill="#1a1a1a">Production (Mt)</text>
<circle cx="36.5" cy="144.4" r="2.7" fill="#EB6868"/>
<text x="43.6" y="148.4" font-size="11.6" fill="#1a1a1a">Historical</text>
<circle cx="36.5" cy="158.45" r="2.7" fill="#42CD42"/>
<text x="43.6" y="162.45" font-size="11.6" fill="#1a1a1a">SSP1-2.6</text>
<circle cx="36.5" cy="172.5" r="2.7" fill="#6496FA"/>
<text x="43.6" y="176.5" font-size="11.6" fill="#1a1a1a">SSP5-8.5</text>
<g id="paneld">
<rect x="37" y="238.9" width="11.4" height="9.96" fill="#4BA8BA"/>
<rect x="62.1" y="238.9" width="11.4" height="56.77" fill="#F41F0E"/>
<rect x="74.8" y="238.9" width="11.4" height="74.7" fill="#2A5190"/>
<rect x="100.3" y="238.9" width="11.4" height="23.9" fill="#4BA8BA"/>
<rect x="112.7" y="238.9" width="11.4" height="54.78" fill="#5BC94A"/>
<rect x="125.4" y="238.9" width="11.4" height="62.25" fill="#F41F0E"/>
<rect x="138.1" y="238.9" width="11.4" height="71.71" fill="#2A5190"/>
<rect x="163.3" y="238.9" width="11.4" height="17.43" fill="#4BA8BA"/>
<rect x="176" y="238.9" width="11.4" height="64.74" fill="#5BC94A"/>
<rect x="188.4" y="238.9" width="11.4" height="58.76" fill="#F41F0E"/>
<rect x="201.1" y="238.9" width="11.4" height="81.67" fill="#2A5190"/>
<path d="M42.5,226.95V270.27M39.5,226.95H45.5M39.5,270.27H45.5" stroke="#000" stroke-opacity="0.62" stroke-width="1" fill="none"/>
<path d="M106.5,242.39V283.22M103.5,242.39H109.5M103.5,283.22H109.5" stroke="#000" stroke-opacity="0.62" stroke-width="1" fill="none"/>
<path d="M118.5,288.7V299.66M115.5,288.7H121.5M115.5,299.66H121.5" stroke="#000" stroke-opacity="0.62" stroke-width="1" fill="none"/>
<path d="M131.5,291.19V312.11M128.5,291.19H134.5M128.5,312.11H134.5" stroke="#000" stroke-opacity="0.62" stroke-width="1" fill="none"/>
<path d="M143.5,289.2V331.53M140.5,289.2H146.5M140.5,331.53H146.5" stroke="#000" stroke-opacity="0.62" stroke-width="1" fill="none"/>
<path d="M168.5,238.9V273.26M165.5,238.9H171.5M165.5,273.26H171.5" stroke="#000" stroke-opacity="0.62" stroke-width="1" fill="none"/>
<path d="M181.5,295.17V312.11M178.5,295.17H184.5M178.5,312.11H184.5" stroke="#000" stroke-opacity="0.62" stroke-width="1" fill="none"/>
<path d="M194.5,292.19V303.64M191.5,292.19H197.5M191.5,303.64H197.5" stroke="#000" stroke-opacity="0.62" stroke-width="1" fill="none"/>
<path d="M206.5,300.65V340.99M203.5,300.65H209.5M203.5,340.99H209.5" stroke="#000" stroke-opacity="0.62" stroke-width="1" fill="none"/>
<path d="M27.6,371V207M25.7,210.6L27.6,207L29.5,210.6" stroke="#333" stroke-width="0.9" fill="none"/>
<path d="M25.8,238.9H223.8M220.2,237L223.8,238.9L220.2,240.8" stroke="#555" stroke-width="0.9" fill="none"/>
<line x1="93.5" y1="216.5" x2="93.5" y2="285.8" stroke="#222" stroke-width="0.8" stroke-dasharray="2.2,2"/>
<line x1="155.8" y1="216.5" x2="155.8" y2="285.8" stroke="#222" stroke-width="0.8" stroke-dasharray="2.2,2"/>
<text x="23.2" y="218" text-anchor="end" font-size="10.8" fill="#1a1a1a">5</text>
<line x1="26" y1="238.9" x2="27.6" y2="238.9" stroke="#666" stroke-width="0.8"/>
<text x="23.2" y="242.9" text-anchor="end" font-size="10.8" fill="#1a1a1a">0</text>
<line x1="26" y1="263.8" x2="27.6" y2="263.8" stroke="#666" stroke-width="0.8"/>
<text x="23.2" y="267.8" text-anchor="end" font-size="10.8" fill="#1a1a1a">-5</text>
<line x1="26" y1="288.7" x2="27.6" y2="288.7" stroke="#666" stroke-width="0.8"/>
<text x="25.6" y="292.7" text-anchor="end" font-size="10.8" fill="#1a1a1a">-10</text>
<line x1="26" y1="313.6" x2="27.6" y2="313.6" stroke="#666" stroke-width="0.8"/>
<text x="25.6" y="317.6" text-anchor="end" font-size="10.8" fill="#1a1a1a">-15</text>
<line x1="26" y1="338.5" x2="27.6" y2="338.5" stroke="#666" stroke-width="0.8"/>
<text x="25.6" y="342.5" text-anchor="end" font-size="10.8" fill="#1a1a1a">-20</text>
<line x1="26" y1="363.4" x2="27.6" y2="363.4" stroke="#666" stroke-width="0.8"/>
<text x="25.6" y="367.4" text-anchor="end" font-size="10.8" fill="#1a1a1a">-25</text>
<text x="60.4" y="228.9" text-anchor="middle" font-size="11.2" fill="#1a1a1a">Historical</text>
<text x="124.6" y="228.9" text-anchor="middle" font-size="11.2" fill="#1a1a1a">SSP1-2.6</text>
<text x="187.0" y="228.9" text-anchor="middle" font-size="11.2" fill="#1a1a1a">SSP5-8.5</text>
<text x="35.8" y="218.4" font-size="15" fill="#1a1a1a">(d)</text>
</g>
<g id="panele">
<rect x="260.7" y="238.3" width="11.4" height="19.44" fill="#4BA8BA"/>
<rect x="286.2" y="238.3" width="11.4" height="61.61" fill="#F41F0E"/>
<rect x="299" y="238.3" width="11.4" height="68.18" fill="#2A5190"/>
<rect x="324.8" y="238.3" width="11.4" height="38.38" fill="#4BA8BA"/>
<rect x="337.7" y="238.3" width="11.4" height="56.56" fill="#5BC94A"/>
<rect x="350.4" y="238.3" width="11.4" height="61.61" fill="#F41F0E"/>
<rect x="363.1" y="238.3" width="11.4" height="67.67" fill="#2A5190"/>
<rect x="388.8" y="238.3" width="11.4" height="37.37" fill="#4BA8BA"/>
<rect x="401.6" y="238.3" width="11.4" height="65.65" fill="#5BC94A"/>
<rect x="414.1" y="238.3" width="11.4" height="69.19" fill="#F41F0E"/>
<rect x="427.2" y="238.3" width="11.4" height="74.24" fill="#2A5190"/>
<path d="M266.5,242.84V272.64M263.5,242.84H269.5M263.5,272.64H269.5" stroke="#000" stroke-opacity="0.62" stroke-width="1" fill="none"/>
<path d="M330.5,269.61V284.76M327.5,269.61H333.5M327.5,284.76H333.5" stroke="#000" stroke-opacity="0.62" stroke-width="1" fill="none"/>
<path d="M343.5,285.77V304.46M340.5,285.77H346.5M340.5,304.46H346.5" stroke="#000" stroke-opacity="0.62" stroke-width="1" fill="none"/>
<path d="M356.5,293.35V307.49M353.5,293.35H359.5M353.5,307.49H359.5" stroke="#000" stroke-opacity="0.62" stroke-width="1" fill="none"/>
<path d="M368.5,291.32V321.62M365.5,291.32H371.5M365.5,321.62H371.5" stroke="#000" stroke-opacity="0.62" stroke-width="1" fill="none"/>
<path d="M394.5,264.06V287.79M391.5,264.06H397.5M391.5,287.79H397.5" stroke="#000" stroke-opacity="0.62" stroke-width="1" fill="none"/>
<path d="M407.5,295.87V312.03M404.5,295.87H410.5M404.5,312.03H410.5" stroke="#000" stroke-opacity="0.62" stroke-width="1" fill="none"/>
<path d="M419.5,294.86V320.11M416.5,294.86H422.5M416.5,320.11H422.5" stroke="#000" stroke-opacity="0.62" stroke-width="1" fill="none"/>
<path d="M432.5,293.35V331.22M429.5,293.35H435.5M429.5,331.22H435.5" stroke="#000" stroke-opacity="0.62" stroke-width="1" fill="none"/>
<path d="M251.3,370.5V206.3M249.4,209.9L251.3,206.3L253.2,209.9" stroke="#333" stroke-width="0.9" fill="none"/>
<path d="M249.5,238.3H449M445.4,236.4L449,238.3L445.4,240.2" stroke="#555" stroke-width="0.9" fill="none"/>
<line x1="318.4" y1="215.8" x2="318.4" y2="284.8" stroke="#222" stroke-width="0.8" stroke-dasharray="2.2,2"/>
<line x1="380.3" y1="215.8" x2="380.3" y2="284.8" stroke="#222" stroke-width="0.8" stroke-dasharray="2.2,2"/>
<text x="246.2" y="217.05" text-anchor="end" font-size="10.8" fill="#1a1a1a">5</text>
<line x1="249.7" y1="238.3" x2="251.3" y2="238.3" stroke="#666" stroke-width="0.8"/>
<text x="246.2" y="242.3" text-anchor="end" font-size="10.8" fill="#1a1a1a">0</text>
<line x1="249.7" y1="263.55" x2="251.3" y2="263.55" stroke="#666" stroke-width="0.8"/>
<text x="246.2" y="267.55" text-anchor="end" font-size="10.8" fill="#1a1a1a">-5</text>
<line x1="249.7" y1="288.8" x2="251.3" y2="288.8" stroke="#666" stroke-width="0.8"/>
<text x="248.6" y="292.8" text-anchor="end" font-size="10.8" fill="#1a1a1a">-10</text>
<line x1="249.7" y1="314.05" x2="251.3" y2="314.05" stroke="#666" stroke-width="0.8"/>
<text x="248.6" y="318.05" text-anchor="end" font-size="10.8" fill="#1a1a1a">-15</text>
<line x1="249.7" y1="339.3" x2="251.3" y2="339.3" stroke="#666" stroke-width="0.8"/>
<text x="248.6" y="343.3" text-anchor="end" font-size="10.8" fill="#1a1a1a">-20</text>
<line x1="249.7" y1="364.55" x2="251.3" y2="364.55" stroke="#666" stroke-width="0.8"/>
<text x="248.6" y="368.55" text-anchor="end" font-size="10.8" fill="#1a1a1a">-25</text>
<text x="285.4" y="227.8" text-anchor="middle" font-size="11.2" fill="#1a1a1a">Historical</text>
<text x="349.5" y="227.8" text-anchor="middle" font-size="11.2" fill="#1a1a1a">SSP1-2.6</text>
<text x="411.5" y="227.8" text-anchor="middle" font-size="11.2" fill="#1a1a1a">SSP5-8.5</text>
<text x="257.7" y="219.4" font-size="15" fill="#1a1a1a">(e)</text>
</g>
<g id="panelf">
<rect x="489.1" y="236.4" width="11.5" height="13.18" fill="#4BA8BA"/>
<rect x="514.8" y="236.4" width="11.5" height="63.24" fill="#F41F0E"/>
<rect x="527.8" y="236.4" width="11.5" height="64.82" fill="#2A5190"/>
<rect x="553.4" y="236.4" width="11.5" height="28.98" fill="#4BA8BA"/>
<rect x="566.1" y="236.4" width="11.5" height="75.62" fill="#5BC94A"/>
<rect x="591.8" y="236.4" width="11.5" height="79.58" fill="#2A5190"/>
<rect x="617.4" y="236.4" width="11.5" height="28.46" fill="#4BA8BA"/>
<rect x="630.3" y="236.4" width="11.5" height="82.74" fill="#5BC94A"/>
<rect x="655.8" y="236.4" width="11.5" height="86.16" fill="#2A5190"/>
<path d="M494.5,234.29V264.86M491.5,234.29H497.5M491.5,264.86H497.5" stroke="#000" stroke-opacity="0.62" stroke-width="1" fill="none"/>
<path d="M559.5,247.99V282.78M556.5,247.99H562.5M556.5,282.78H562.5" stroke="#000" stroke-opacity="0.62" stroke-width="1" fill="none"/>
<path d="M571.5,288.05V335.48M568.5,288.05H574.5M568.5,335.48H574.5" stroke="#000" stroke-opacity="0.62" stroke-width="1" fill="none"/>
<path d="M597.5,290.68V341.8M594.5,290.68H600.5M594.5,341.8H600.5" stroke="#000" stroke-opacity="0.62" stroke-width="1" fill="none"/>
<path d="M623.5,250.63V279.61M620.5,250.63H626.5M620.5,279.61H626.5" stroke="#000" stroke-opacity="0.62" stroke-width="1" fill="none"/>
<path d="M636.5,298.59V337.58M633.5,298.59H639.5M633.5,337.58H639.5" stroke="#000" stroke-opacity="0.62" stroke-width="1" fill="none"/>
<path d="M661.5,297V347.6M658.5,297H664.5M658.5,347.6H664.5" stroke="#000" stroke-opacity="0.62" stroke-width="1" fill="none"/>
<path d="M480.6,378V202.1M478.7,205.7L480.6,202.1L482.5,205.7" stroke="#333" stroke-width="0.9" fill="none"/>
<path d="M478.8,236.4H678.7M675.1,234.5L678.7,236.4L675.1,238.3" stroke="#555" stroke-width="0.9" fill="none"/>
<line x1="547.7" y1="218.8" x2="547.7" y2="288.5" stroke="#222" stroke-width="0.8" stroke-dasharray="2.2,2"/>
<line x1="609.4" y1="218.8" x2="609.4" y2="288.5" stroke="#222" stroke-width="0.8" stroke-dasharray="2.2,2"/>
<text x="476.2" y="214.05" text-anchor="end" font-size="10.8" fill="#1a1a1a">5</text>
<line x1="479" y1="236.4" x2="480.6" y2="236.4" stroke="#666" stroke-width="0.8"/>
<text x="476.2" y="240.4" text-anchor="end" font-size="10.8" fill="#1a1a1a">0</text>
<line x1="479" y1="262.75" x2="480.6" y2="262.75" stroke="#666" stroke-width="0.8"/>
<text x="476.2" y="266.75" text-anchor="end" font-size="10.8" fill="#1a1a1a">-5</text>
<line x1="479" y1="289.1" x2="480.6" y2="289.1" stroke="#666" stroke-width="0.8"/>
<text x="479.6" y="293.1" text-anchor="end" font-size="10.8" fill="#1a1a1a">-10</text>
<line x1="479" y1="315.45" x2="480.6" y2="315.45" stroke="#666" stroke-width="0.8"/>
<text x="479.6" y="319.45" text-anchor="end" font-size="10.8" fill="#1a1a1a">-15</text>
<line x1="479" y1="341.8" x2="480.6" y2="341.8" stroke="#666" stroke-width="0.8"/>
<text x="479.6" y="345.8" text-anchor="end" font-size="10.8" fill="#1a1a1a">-20</text>
<line x1="479" y1="368.15" x2="480.6" y2="368.15" stroke="#666" stroke-width="0.8"/>
<text x="479.6" y="372.15" text-anchor="end" font-size="10.8" fill="#1a1a1a">-25</text>
<text x="514.5" y="230.8" text-anchor="middle" font-size="11.2" fill="#1a1a1a">Historical</text>
<text x="578.5" y="230.8" text-anchor="middle" font-size="11.2" fill="#1a1a1a">SSP1-2.6</text>
<text x="641.2" y="230.8" text-anchor="middle" font-size="11.2" fill="#1a1a1a">SSP5-8.5</text>
<text x="483" y="217.1" font-size="15" fill="#1a1a1a">(f)</text>
</g>
<text transform="translate(10.2,291.2) rotate(-90)" text-anchor="middle" font-size="11.15" fill="#1a1a1a">Yield change (%)</text>
<rect x="32.6" y="342.3" width="10.2" height="4.2" fill="#4BA8BA"/>
<text x="47.4" y="347.9" font-size="10.0" fill="#1a1a1a">Normal</text>
<rect x="83.2" y="341.8" width="10.2" height="4.2" fill="#2A5190"/>
<text x="99.5" y="347.4" font-size="10.0" fill="#1a1a1a">HDD &amp; SPEI</text>
<rect x="32.6" y="359.8" width="10.2" height="4.2" fill="#F41F0E"/>
<text x="47.4" y="365.4" font-size="10.0" fill="#1a1a1a">SPEI</text>
<rect x="83.2" y="360.7" width="10.2" height="4.2" fill="#5BC94A"/>
<text x="99.5" y="366.3" font-size="10.0" fill="#1a1a1a">HDD</text></svg>
</body></html>
